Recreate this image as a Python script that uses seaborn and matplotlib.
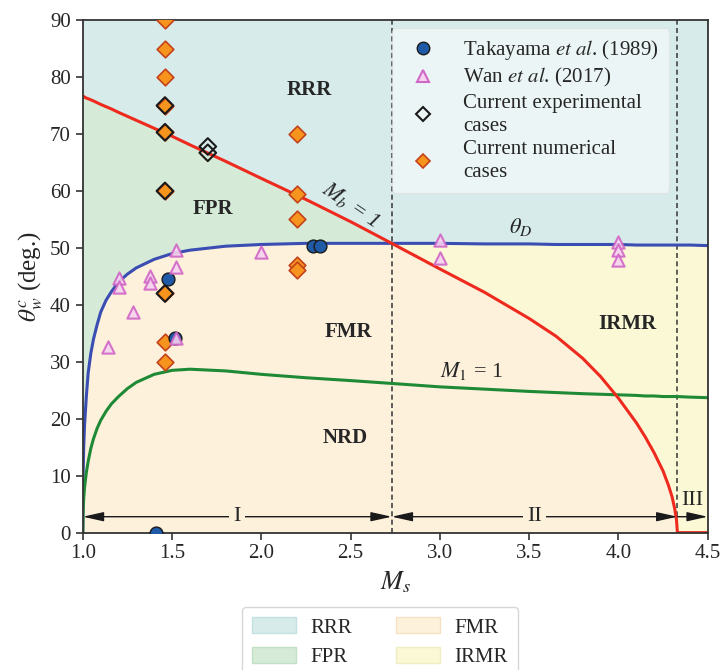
import numpy as np
import matplotlib.pyplot as plt
import seaborn as sns
from matplotlib.lines import Line2D
from matplotlib.patches import Patch

# transition curves on a shared Ms grid
ms_grid = [1.0, 1.002, 1.005, 1.01, 1.02, 1.03, 1.045, 1.06, 1.08, 1.1, 1.13, 1.16, 1.2,
           1.25, 1.3, 1.4, 1.5, 1.6, 1.8, 2.0, 2.25, 2.5, 2.73, 3.0, 3.25, 3.5, 3.65,
           3.8, 3.9, 4.0, 4.1, 4.15, 4.2, 4.25, 4.28, 4.3, 4.315, 4.325, 4.33, 4.4, 4.5]
theta_d = [0.0, 10.5, 15.0, 19.0, 24.0, 28.0, 31.5, 34.0, 36.5, 38.7, 40.8, 42.3, 44.0,
           45.4, 46.5, 48.0, 49.0, 49.6, 50.3, 50.6, 50.8, 50.8, 50.8, 50.8, 50.7, 50.7, 50.6,
           50.6, 50.6, 50.6, 50.5, 50.5, 50.5, 50.5, 50.5, 50.5, 50.5, 50.5, 50.5, 50.5, 50.4]
m1_sonic = [0.0, 4.0, 6.0, 8.0, 10.6, 12.5, 14.8, 16.5, 18.3, 19.7, 21.3, 22.6, 23.9,
            25.3, 26.4, 27.8, 28.5, 28.7, 28.4, 27.8, 27.2, 26.7, 26.2, 25.6, 25.2, 24.8, 24.6,
            24.4, 24.3, 24.2, 24.1, 24.0, 24.0, 23.9, 23.9, 23.9, 23.9, 23.9, 23.9, 23.8, 23.7]
mb_sonic = [76.6, 76.6, 76.5, 76.5, 76.3, 76.2, 76.0, 75.8, 75.5, 75.2, 74.8, 74.4, 73.8,
            73.1, 72.4, 71.0, 69.6, 68.1, 65.2, 62.2, 58.5, 54.6, 50.8, 46.3, 42.2, 37.6, 34.5,
            30.6, 27.4, 23.6, 19.3, 16.8, 14.0, 10.8, 8.3, 6.3, 4.2, 2.2, 0.0, 0.0, 0.0]

tak_ms = [1.41, 1.476, 1.515, 2.29, 2.33]
tak_theta = [0.0, 44.5, 34.2, 50.4, 50.3]

wan_ms = [1.14, 1.20, 1.20, 1.28, 1.375, 1.375, 1.52, 1.52, 1.52, 2.0, 3.0, 3.0, 4.0, 4.0, 4.0]
wan_theta = [32.6, 44.7, 43.2, 38.8, 45.1, 43.8, 49.6, 46.7, 34.2, 49.3, 51.3, 48.3, 51.1, 49.6, 47.9]

exp_ms = [1.46, 1.46, 1.46, 1.46, 1.70, 1.70]
exp_theta = [75.0, 70.3, 60.0, 42.0, 67.8, 66.7]

num_ms = [1.46] * 9 + [2.2] * 5
num_theta = [90.0, 85.0, 80.0, 75.0, 70.3, 60.0, 42.0, 33.4, 29.9, 70.0, 59.4, 55.0, 47.0, 46.2]

regime_bounds = [1.0, 2.73, 4.33, 4.5]
regime_labels = ["I", "II", "III"]

c_rrr, c_fpr, c_fmr, c_irmr = "#d7ebeb", "#d5ebd7", "#fdf1dc", "#fbf8d6"

sns.set_theme(style="ticks")
plt.rcParams["font.family"] = ["Liberation Serif", "DejaVu Serif"]
plt.rcParams["mathtext.fontset"] = "stix"

fig, ax = plt.subplots(figsize=(7.2, 6.7), dpi=100)
fig.subplots_adjust(left=0.115, right=0.983, top=0.970, bottom=0.205)

x = np.array(ms_grid)
b = np.array(theta_d)
r = np.array(mb_sonic)
ax.fill_between(x, np.maximum(r, b), 90, color=c_rrr, lw=0, zorder=0)
ax.fill_between(x, b, r, where=r >= b, interpolate=True, color=c_fpr, lw=0, zorder=0)
ax.fill_between(x, r, b, where=r <= b, interpolate=True, color=c_irmr, lw=0, zorder=0)
ax.fill_between(x, 0, np.minimum(r, b), color=c_fmr, lw=0, zorder=0)

for xb in regime_bounds[1:3]:
    ax.axvline(xb, color="#444444", ls=(0, (3, 2)), lw=1.2, zorder=1)

sns.lineplot(x=ms_grid, y=theta_d, sort=False, estimator=None, color="#3a4db3", lw=2.2, ax=ax, zorder=2)
sns.lineplot(x=ms_grid, y=m1_sonic, sort=False, estimator=None, color="#1e8a35", lw=2.2, ax=ax, zorder=2)
sns.lineplot(x=ms_grid, y=mb_sonic, sort=False, estimator=None, color="#ee2a1e", lw=2.2, ax=ax, zorder=2)

# regime arrows
y_arr = 2.8
arrow_kw = dict(color="k", lw=1.0, shrinkA=0, shrinkB=0, mutation_scale=14)
for i in range(2):
    ax.annotate("", xy=(regime_bounds[i], y_arr), xytext=(regime_bounds[i + 1], y_arr),
                arrowprops=dict(arrowstyle="<|-|>,head_length=0.9,head_width=0.2", **arrow_kw), zorder=3)
    ax.text((regime_bounds[i] + regime_bounds[i + 1]) / 2, y_arr, regime_labels[i],
            ha="center", va="center", fontsize=16, zorder=4,
            bbox=dict(fc=c_fmr, ec="none", pad=3))
ax.annotate("", xy=(regime_bounds[2], y_arr), xytext=(regime_bounds[3], y_arr),
            arrowprops=dict(arrowstyle="<|-,head_length=0.9,head_width=0.2", **arrow_kw), zorder=3)
ax.text(4.415, 5.6, regime_labels[2], ha="center", va="center", fontsize=16, zorder=4)

# markers
sns.scatterplot(x=num_ms, y=num_theta, marker="D", s=72, color="#f7941d", edgecolor="#c4421c",
                linewidth=1.2, ax=ax, zorder=5)
sns.scatterplot(x=exp_ms, y=exp_theta, marker="D", s=72, color="none", edgecolor="k",
                linewidth=1.5, ax=ax, zorder=6)
sns.scatterplot(x=tak_ms, y=tak_theta, marker="o", s=85, color="#1f5aa6", edgecolor="k",
                linewidth=1.0, ax=ax, zorder=6)
sns.scatterplot(x=wan_ms, y=wan_theta, marker="^", s=78, color="#f5d3f0", edgecolor="#d066c6",
                linewidth=1.5, ax=ax, zorder=7, alpha=0.9)

# region and curve labels
lab = dict(fontsize=15, fontweight="bold", ha="center", va="center", zorder=8)
ax.text(2.27, 77.7, "RRR", **lab)
ax.text(1.73, 56.8, "FPR", **lab)
ax.text(2.49, 35.3, "FMR", **lab)
ax.text(2.47, 16.7, "NRD", **lab)
ax.text(4.05, 36.7, "IRMR", **lab)
ax.text(2.50, 57.5, "$M_b$ = 1", fontsize=16, rotation=-34, ha="center", va="center", style="italic", zorder=8)
ax.text(3.45, 53.6, r"$\theta_D$", fontsize=16, ha="center", va="center", zorder=8)
ax.text(3.18, 28.4, "$M_1$ = 1", fontsize=16, ha="center", va="center", zorder=8)

ax.set_xlim(1.0, 4.5)
ax.set_ylim(0, 90)
ax.set_xticks(np.arange(1.0, 4.51, 0.5))
ax.set_yticks(np.arange(0, 91, 10))
ax.set_xlabel("$M_s$", fontsize=19, labelpad=4)
ax.set_ylabel(r"$\theta_w^c$ (deg.)", fontsize=18, labelpad=4)
ax.tick_params(labelsize=15, direction="out", length=5, width=1.2, color="#333333")
for sp in ax.spines.values():
    sp.set_color("#333333")
    sp.set_linewidth(1.3)

marker_handles = [
    Line2D([], [], ls="none", marker="o", ms=9, mfc="#1f5aa6", mec="k", mew=1.0),
    Line2D([], [], ls="none", marker="^", ms=8, mfc="#f5d3f0", mec="#d066c6", mew=1.5),
    Line2D([], [], ls="none", marker="D", ms=7, mfc="none", mec="k", mew=1.5),
    Line2D([], [], ls="none", marker="D", ms=7, mfc="#f7941d", mec="#c4421c", mew=1.2),
]
marker_labels = [r"Takayama $\it{et\ al}$. (1989)", r"Wan $\it{et\ al}$. (2017)",
                 "Current experimental\ncases", "Current numerical\ncases"]
leg = ax.legend(marker_handles, marker_labels, loc="upper right", bbox_to_anchor=(0.938, 0.985),
                borderaxespad=0, fontsize=15, frameon=True, framealpha=0.55, facecolor="white",
                edgecolor="#dddddd", handletextpad=0.9, labelspacing=0.2, borderpad=0.5)
for t in leg.get_texts():
    t.set_linespacing(1.3)
leg.set_zorder(9)

region_handles = [Patch(fc=c, ec=e, lw=1.0) for c, e in
                  [(c_rrr, "#c5e0e0"), (c_fpr, "#c2e0c6"), (c_fmr, "#f6e2c2"), (c_irmr, "#efeec2")]]
fig.legend(region_handles, ["RRR", "FPR", "FMR", "IRMR"], ncol=2, loc="upper center",
           bbox_to_anchor=(0.528, 0.094), borderaxespad=0, fontsize=15, frameon=True,
           edgecolor="#cccccc", handlelength=2.1, handleheight=0.8, columnspacing=2.1,
           labelspacing=0.45, handletextpad=0.7, borderpad=0.5)

fig.savefig("out.png", dpi=100)
